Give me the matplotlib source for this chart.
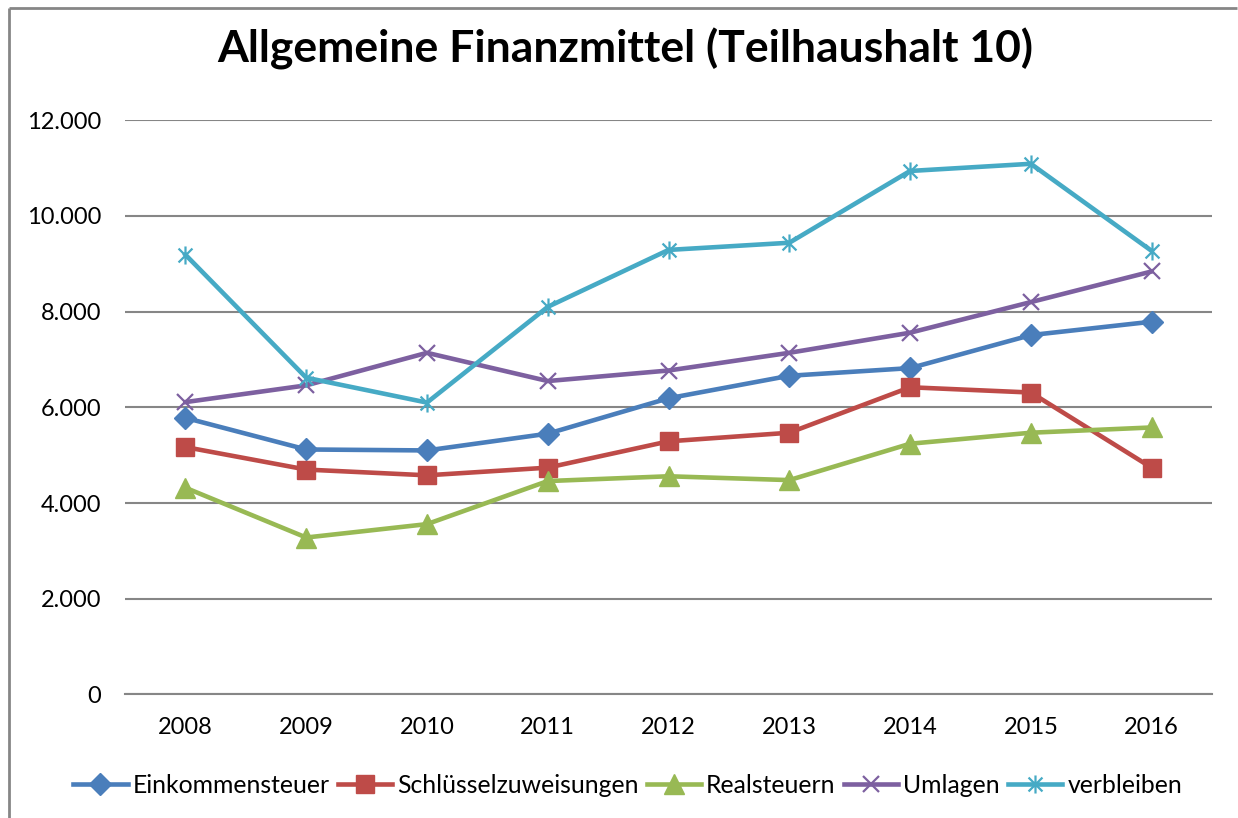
import numpy as np
import matplotlib
matplotlib.use('AGG')
import matplotlib.pyplot as plt
from matplotlib.path import Path
from matplotlib.lines import Line2D

years = ['2008', '2009', '2010', '2011', '2012', '2013', '2014', '2015', '2016']

einkommensteuer = [5780, 5120, 5100, 5450, 6190, 6660, 6820, 7510, 7790]
schluesselzuweisungen = [5170, 4700, 4580, 4740, 5290, 5470, 6420, 6310, 4740]
realsteuern = [4320, 3280, 3560, 4460, 4560, 4480, 5240, 5470, 5580]
umlagen = [6110, 6460, 7140, 6550, 6770, 7140, 7560, 8200, 8840]
verbleiben = [9190, 6620, 6100, 8100, 9290, 9440, 10940, 11090, 9270]

ytick_vals = [0, 2000, 4000, 6000, 8000, 10000, 12000]
ytick_labels = ['0', '2.000', '4.000', '6.000', '8.000', '10.000', '12.000']

plt.rcParams['font.family'] = ['Lato', 'DejaVu Sans']

# asterisk marker (x plus vertical bar), like Excel's "*" marker
star = Path([(-1, -1), (1, 1), (-1, 1), (1, -1), (0, -1.3), (0, 1.3)],
            [Path.MOVETO, Path.LINETO, Path.MOVETO, Path.LINETO, Path.MOVETO, Path.LINETO])

fig = plt.figure(figsize=(12.38, 8.18), dpi=100)
ax = fig.add_axes([0.101, 0.151, 0.878, 0.702])

# chart area border, only top and left edges are inside the picture
bx, by = 9 / 1238, 1 - 8 / 818
fig.add_artist(Line2D([bx, 0.999], [by, by], transform=fig.transFigure, color='#868686', lw=2,
                      solid_capstyle='butt'))
fig.add_artist(Line2D([bx, bx], [0.0, by], transform=fig.transFigure, color='#868686', lw=2,
                      solid_capstyle='butt'))

x = np.arange(len(years))
lw = 3.3
ax.plot(x, einkommensteuer, color='#4A7EBB', lw=lw, marker='D', ms=11, label='Einkommensteuer')
ax.plot(x, schluesselzuweisungen, color='#BE4B48', lw=lw, marker='s', ms=13, label='Schlüsselzuweisungen')
ax.plot(x, realsteuern, color='#98B954', lw=lw, marker='^', ms=14, label='Realsteuern')
ax.plot(x, umlagen, color='#7D60A0', lw=lw, marker='x', ms=12, mew=1.6, label='Umlagen')
ax.plot(x, verbleiben, color='#46AAC5', lw=lw, marker=star, ms=13, mew=1.6,
        markerfacecolor='none', label='verbleiben')

ax.set_xlim(-0.5, len(years) - 0.5)
ax.set_ylim(0, 12000)
ax.set_xticks(x)
ax.set_xticklabels(years)
ax.set_yticks(ytick_vals)
ax.set_yticklabels(ytick_labels)
ax.tick_params(axis='both', length=0, labelsize=17, colors='black')
ax.tick_params(axis='x', pad=16)
ax.tick_params(axis='y', pad=17)
ax.grid(axis='y', color='#868686', linewidth=1.5)
ax.set_axisbelow(True)
for s in ['top', 'right', 'left']:
    ax.spines[s].set_visible(False)
ax.spines['bottom'].set_color('#868686')
ax.spines['bottom'].set_linewidth(1.5)

fig.text(0.505, 0.94, 'Allgemeine Finanzmittel (Teilhaushalt 10)', ha='center', va='center',
         fontsize=32, fontweight='bold')

fig.legend(loc='center', bbox_to_anchor=(0.507, 0.04), ncol=5, frameon=False, fontsize=17.8,
           handlelength=2.2, handletextpad=0.2, columnspacing=0.33)

fig.savefig('out.png', dpi=100)
